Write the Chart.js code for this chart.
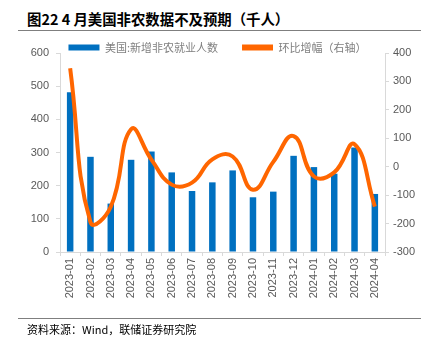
<!DOCTYPE html>
<html>
<head>
<meta charset="utf-8">
<script src="https://cdn.jsdelivr.net/npm/chart.js@4"></script>
<style>
  body { margin: 0; background: #fff; }
  #wrap { position: relative; width: 435px; height: 349px; overflow: hidden; }
  #title { position: absolute; left: 27px; top: 8px; font: bold 14.4px "Noto Sans CJK SC", sans-serif; color: #000; white-space: nowrap; }
  #topline { position: absolute; left: 18px; top: 30px; width: 403px; height: 1px; background: #7f7f7f; }
  #botline { position: absolute; left: 18px; top: 318px; width: 403px; height: 1px; background: #7f7f7f; }
  #source { position: absolute; left: 27px; top: 321px; font: 11px "Noto Sans CJK SC", sans-serif; color: #000; white-space: nowrap; }
  canvas { position: absolute; left: 0; top: 0; }
</style>
</head>
<body>
<div id="wrap">
  <div id="title">图22 4 月美国非农数据不及预期（千人）</div>
  <div id="topline"></div>
  <canvas id="nfpChart" width="435" height="349"></canvas>
  <div id="botline"></div>
  <div id="source">资料来源：Wind，联储证券研究院</div>
</div>
<script>
// categories and series
const months = ['2023-01', '2023-02', '2023-03', '2023-04', '2023-05', '2023-06', '2023-07', '2023-08',
                '2023-09', '2023-10', '2023-11', '2023-12', '2024-01', '2024-02', '2024-03', '2024-04'];
const nonfarm = [482, 287, 146, 278, 303, 240, 184, 210, 246, 165, 182, 290, 256, 236, 315, 175];
const momChange = [346, -195, -141, 132, 25, -63, -56, 26, 36, -81, 17, 108, -34, -20, 79, -140];
const leftTicks = [0, 100, 200, 300, 400, 500, 600];
const rightTicks = [-300, -200, -100, 0, 100, 200, 300, 400];

const blue = '#0070C0';
const orange = '#FF6600';
const tickColor = '#595959';
const axisColor = '#d9d9d9';
const numFont = { family: '"Liberation Sans", Arial, sans-serif', size: 11 };

// fix legend height so the plot starts where the reference does
const legendFit = {
    id: 'legendFit',
    beforeInit(chart) {
        const fit = chart.legend.fit;
        chart.legend.fit = function () {
            fit.call(this);
            this.height = 35;
        };
    }
};

const nfpChart = new Chart(document.getElementById('nfpChart'), {
    type: 'bar',
    data: {
        labels: months,
        datasets: [{
            type: 'bar',
            label: '美国:新增非农就业人数',
            data: nonfarm,
            backgroundColor: blue,
            yAxisID: 'y',
            barPercentage: 0.32,
            categoryPercentage: 1,
            order: 2
        }, {
            type: 'line',
            label: '环比增幅（右轴）',
            data: momChange,
            borderColor: orange,
            backgroundColor: orange,
            borderWidth: 4,
            pointRadius: 0,
            tension: 0.45,
            yAxisID: 'y1',
            order: 1
        }]
    },
    plugins: [legendFit],
    options: {
        responsive: false,
        animation: false,
        layout: { padding: { top: 18, left: 0, right: 0, bottom: 0 } },
        plugins: {
            tooltip: { enabled: false },
            legend: {
                position: 'top',
                labels: {
                    boxWidth: 31,
                    boxHeight: 6,
                    padding: 24,
                    color: '#7f7f7f',
                    font: { family: '"Noto Sans CJK SC", sans-serif', size: 11 },
                    generateLabels(chart) {
                        return chart.data.datasets.map((ds, i) => ({
                            text: ds.label,
                            fillStyle: ds.type === 'line' ? ds.borderColor : ds.backgroundColor,
                            strokeStyle: 'transparent',
                            lineWidth: 0,
                            fontColor: '#7f7f7f',
                            datasetIndex: i
                        }));
                    }
                }
            }
        },
        scales: {
            x: {
                offset: true,
                grid: { offset: true, drawOnChartArea: false, drawTicks: true, tickLength: 4, color: axisColor },
                border: { color: axisColor },
                ticks: { color: tickColor, font: numFont, minRotation: 90, maxRotation: 90, padding: 2, autoSkip: false },
                afterFit(scale) { scale.height = 97; }
            },
            y: {
                position: 'left',
                min: 0,
                max: 600,
                afterBuildTicks(scale) { scale.ticks = leftTicks.map(v => ({ value: v })); },
                grid: { drawOnChartArea: false, drawTicks: true, tickLength: 4, color: axisColor },
                border: { color: axisColor },
                ticks: { color: tickColor, font: numFont, padding: 7 },
                afterFit(scale) { scale.width = 60; }
            },
            y1: {
                position: 'right',
                min: -300,
                max: 400,
                afterBuildTicks(scale) { scale.ticks = rightTicks.map(v => ({ value: v })); },
                grid: { drawOnChartArea: false, drawTicks: true, tickLength: 4, color: axisColor },
                border: { color: axisColor },
                ticks: { color: tickColor, font: numFont, padding: 4 },
                afterFit(scale) { scale.width = 50; }
            }
        }
    }
});
</script>
</body>
</html>
